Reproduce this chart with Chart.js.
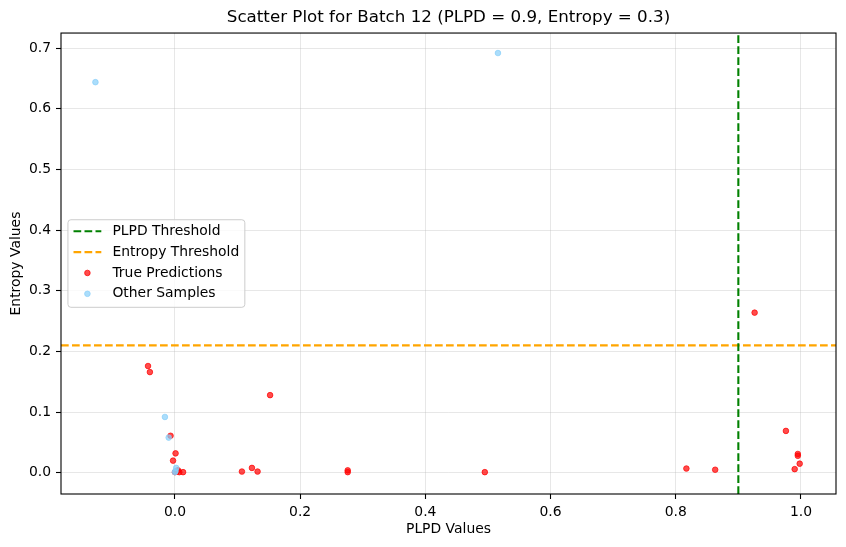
<!DOCTYPE html>
<html>
<head>
<meta charset="utf-8">
<script src="https://cdn.jsdelivr.net/npm/chart.js@4.4.1/dist/chart.umd.min.js"></script>
<style>
  html, body { margin: 0; padding: 0; background: #fff; }
  #wrap { width: 846px; height: 547px; }
</style>
</head>
<body>
<div id="wrap"><canvas id="chart" width="846" height="547"></canvas></div>
<script>
// Values
const chartTitle = 'Scatter Plot for Batch 12 (PLPD = 0.9, Entropy = 0.3)'
const plpdThreshold = 0.9
const entropyThreshold = 0.21

const trueX = [-0.043, -0.040, 0.152, -0.007, 0.001, -0.003, 0.000, 0.005, 0.007, 0.013, 0.003,
               0.107, 0.123, 0.132, 0.276, 0.276, 0.495, 0.817, 0.863, 0.926, 0.976, 0.995,
               0.995, 0.998, 0.990]
const trueY = [0.176, 0.166, 0.128, 0.061, 0.032, 0.020, 0.001, 0.004, 0.001, 0.001, 0.002,
               0.002, 0.008, 0.002, 0.004, 0.001, 0.001, 0.007, 0.005, 0.264, 0.069, 0.031,
               0.028, 0.015, 0.006]

const otherX = [-0.127, 0.516, -0.016, -0.010, 0.002, 0.000, 0.001]
const otherY = [0.644, 0.692, 0.092, 0.058, 0.008, 0.001, 0.003]

const xTicks = [0.0, 0.2, 0.4, 0.6, 0.8, 1.0]
const yTicks = [0.0, 0.1, 0.2, 0.3, 0.4, 0.5, 0.6, 0.7]
const xRange = [-0.182, 1.056]
const yRange = [-0.035, 0.725]

const toPoints = (xs, ys) => xs.map((x, i) => ({ x: x, y: ys[i] }))

const FONT = 'DejaVu Sans'
const FS = 13.9
const dash = [7.7, 3.3]

Chart.defaults.font.family = FONT
Chart.defaults.font.size = FS
Chart.defaults.color = '#000'

/**
 * Draws the legend box the way matplotlib does it,
 * inside the plot on the centre left.
 */
const mplLegend = {
    id: 'mplLegend',
    afterDatasetsDraw (chart) {
        const { ctx, chartArea: area } = chart
        const items = chart.data.datasets
        const pad = 0.4 * FS, handleLen = 2 * FS, handlePad = 0.8 * FS, spacing = 0.5 * FS

        ctx.save()
        ctx.font = `${FS}px "${FONT}"`
        const textW = Math.max(...items.map(d => ctx.measureText(d.label).width))
        const w = pad + handleLen + handlePad + textW + pad
        const h = 2 * pad + items.length * FS + (items.length - 1) * spacing
        const left = area.left + 0.5 * FS
        const top = (area.top + area.bottom) / 2 - h / 2

        ctx.beginPath()
        ctx.roundRect(left, top, w, h, 3)
        ctx.fillStyle = 'rgba(255,255,255,0.8)'
        ctx.fill()
        ctx.strokeStyle = '#cccccc'
        ctx.lineWidth = 1
        ctx.stroke()

        items.forEach((d, i) => {
            const y = top + pad + i * (FS + spacing) + FS / 2 - 1
            const x0 = left + pad
            if (d.type === 'line') {
                ctx.beginPath()
                ctx.setLineDash(d.borderDash)
                ctx.strokeStyle = d.borderColor
                ctx.lineWidth = d.borderWidth
                ctx.moveTo(x0, y)
                ctx.lineTo(x0 + handleLen, y)
                ctx.stroke()
                ctx.setLineDash([])
            } else {
                ctx.beginPath()
                ctx.arc(x0 + handleLen / 2, y, d.pointRadius, 0, Math.PI * 2)
                ctx.fillStyle = d.backgroundColor
                ctx.fill()
                ctx.lineWidth = d.borderWidth
                ctx.strokeStyle = d.borderColor
                ctx.stroke()
            }
            ctx.fillStyle = '#000'
            ctx.textBaseline = 'middle'
            ctx.textAlign = 'left'
            ctx.fillText(d.label, x0 + handleLen + handlePad, y)
        })
        ctx.restore()
    }
}

// Black frame round the plot (all four spines)
const frame = {
    id: 'frame',
    afterDraw (chart) {
        const { ctx, chartArea: a } = chart
        ctx.save()
        ctx.strokeStyle = '#000'
        ctx.lineWidth = 1.1
        ctx.strokeRect(a.left, a.top, a.right - a.left, a.bottom - a.top)
        ctx.restore()
    }
}

const axisStyle = (ticks, title, fit) => ({
    type: 'linear',
    afterBuildTicks: (scale) => { scale.ticks = ticks.map(v => ({ value: v })) },
    afterFit: fit,
    ticks: { callback: (v) => Number(v).toFixed(1), autoSkip: false, maxRotation: 0, padding: 5 },
    grid: { color: 'rgba(176,176,176,0.3)', lineWidth: 1, tickColor: '#000', tickLength: 5, tickWidth: 1.1 },
    border: { display: false },
    title: { display: true, text: title, font: { size: FS } }
})

const xAxis = axisStyle(xTicks, 'PLPD Values', (s) => { s.height = 53 })
xAxis.min = xRange[0]
xAxis.max = xRange[1]
xAxis.title.padding = { top: 0, bottom: 9 }

const yAxis = axisStyle(yTicks, 'Entropy Values', (s) => { s.width = 61 })
yAxis.min = yRange[0]
yAxis.max = yRange[1]
yAxis.title.padding = { top: 8, bottom: 0 }

new Chart(document.getElementById('chart'), {
    type: 'scatter',
    data: {
        datasets: [
            {
                type: 'line',
                label: 'PLPD Threshold',
                data: [{ x: plpdThreshold, y: yRange[0] }, { x: plpdThreshold, y: yRange[1] }],
                borderColor: 'green',
                borderDash: dash,
                borderWidth: 2.08,
                pointRadius: 0,
                order: 0
            },
            {
                type: 'line',
                label: 'Entropy Threshold',
                data: [{ x: xRange[0], y: entropyThreshold }, { x: xRange[1], y: entropyThreshold }],
                borderColor: 'orange',
                borderDash: dash,
                borderWidth: 2.08,
                pointRadius: 0,
                order: 0
            },
            {
                label: 'True Predictions',
                data: toPoints(trueX, trueY),
                backgroundColor: 'rgba(255,0,0,0.7)',
                borderColor: 'rgba(255,0,0,0.7)',
                borderWidth: 1,
                pointRadius: 2.8,
                order: 2
            },
            {
                label: 'Other Samples',
                data: toPoints(otherX, otherY),
                backgroundColor: 'rgba(135,206,250,0.7)',
                borderColor: 'rgba(135,206,250,0.7)',
                borderWidth: 1,
                pointRadius: 2.8,
                order: 1
            }
        ]
    },
    options: {
        responsive: false,
        animation: false,
        devicePixelRatio: 1,
        layout: { padding: { left: 0, right: 10, top: 0, bottom: 0 } },
        scales: { x: xAxis, y: yAxis },
        plugins: {
            legend: { display: false },
            tooltip: { enabled: false },
            title: {
                display: true,
                text: chartTitle,
                fullSize: false,
                color: '#000',
                font: { size: 16.7, weight: 'normal' },
                padding: { top: 8, bottom: 5 }
            }
        }
    },
    plugins: [mplLegend, frame]
})
</script>
</body>
</html>
